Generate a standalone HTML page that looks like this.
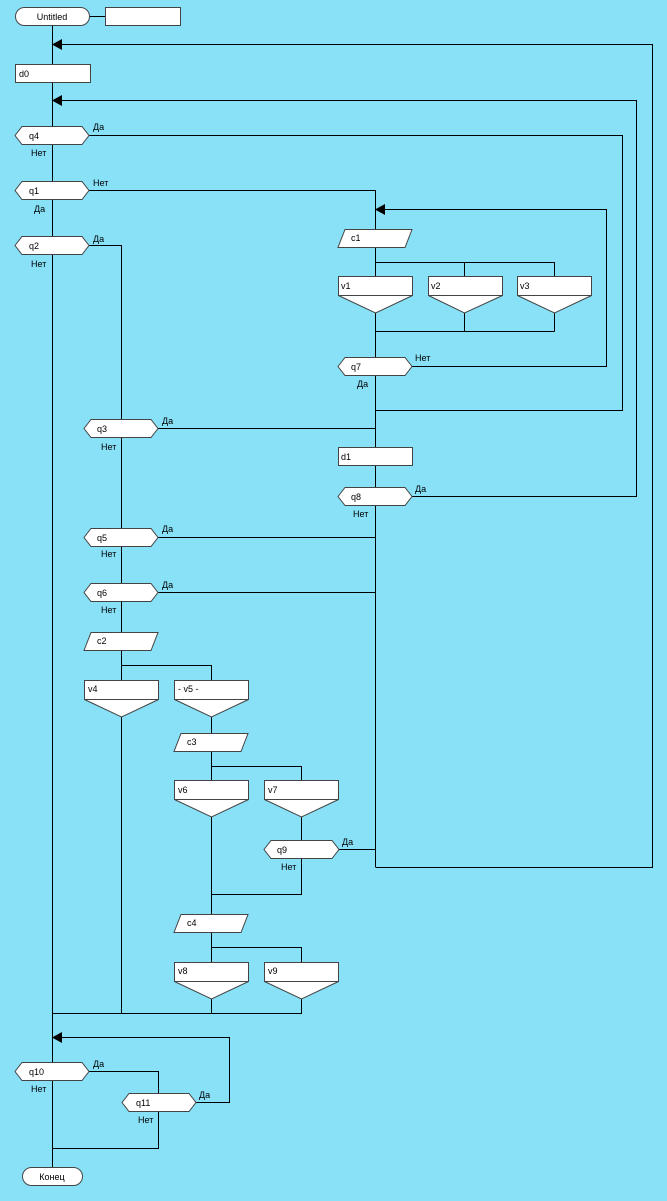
<!DOCTYPE html>
<html><head><meta charset="utf-8"><style>
html,body{margin:0;padding:0;background:#88e1f7;}
svg{display:block}
text{font-family:"Liberation Sans",sans-serif;font-size:9px;fill:#000}
.s{fill:#fff;stroke:#444;stroke-width:1}
.l{stroke:#000;stroke-width:1;fill:none}
</style></head><body>
<svg width="667" height="1201" viewBox="0 0 667 1201" xmlns="http://www.w3.org/2000/svg">
<g class="l">
<path d="M52.5 26V1176"/>
<path d="M89 16.5H105"/>
<path d="M62 44.5H652.5V867.5H375.5"/>
<path d="M62 100.5H636.5V496.5H412"/>
<path d="M89 135.5H622.5V410.5H375.5"/>
<path d="M89 190.5H375.5V229"/>
<path d="M89 245.5H121.5V1013"/>
<path d="M385 209.5H606.5V366.5H412"/>
<path d="M375.5 247V276M375.5 262.5H554.5V276M464.5 262.5V276"/>
<path d="M375.5 313V867M464.5 313V331.5M554.5 313V331.5M375.5 331.5H554.5"/>
<path d="M158 428.5H375.5"/>
<path d="M158 537.5H375.5"/>
<path d="M158 592.5H375.5"/>
<path d="M121.5 665.5H211.5V680"/>
<path d="M211.5 717V914M211.5 766.5H301.5V780M301.5 817V894.5H211.5"/>
<path d="M339 849.5H375.5"/>
<path d="M211.5 932V962M211.5 947.5H301.5V962M211.5 999V1013.5M301.5 999V1013.5H52.5"/>
<path d="M62 1037.5H229.5V1102.5H196"/>
<path d="M89 1071.5H158.5V1093M158.5 1111V1148.5H52.5"/>
</g>
<g fill="#000">
<path d="M52 44.5L62 39V50Z"/>
<path d="M52 100.5L62 95V106Z"/>
<path d="M375 209.5L385 204V215Z"/>
<path d="M52 1037.5L62 1032V1043Z"/>
</g>
<rect class="s" x="15.5" y="7.5" width="74" height="18" rx="9"/>
<text x="52" y="20" text-anchor="middle">Untitled</text>
<rect class="s" x="105.5" y="7.5" width="75" height="18"/>
<rect class="s" x="15.5" y="64.5" width="75" height="18"/><text x="19" y="77">d0</text>

<polygon class="s" points="15,135.5 22,126.5 82,126.5 89,135.5 82,144.5 22,144.5"/><text x="29" y="139">q4</text>
<text x="93" y="130">Да</text><text x="31" y="156">Нет</text>
<polygon class="s" points="15,190.5 22,181.5 82,181.5 89,190.5 82,199.5 22,199.5"/><text x="29" y="194">q1</text>
<text x="93" y="186">Нет</text><text x="34" y="212">Да</text>
<polygon class="s" points="15,245.5 22,236.5 82,236.5 89,245.5 82,254.5 22,254.5"/><text x="29" y="249">q2</text>
<text x="93" y="242">Да</text><text x="31" y="267">Нет</text>

<polygon class="s" points="345,229.5 412,229.5 405,247.5 338,247.5"/><text x="351" y="241">c1</text>
<rect class="s" x="338.5" y="276.5" width="74" height="19"/><polygon class="s" points="338.5,295.5 412.5,295.5 375.5,313"/><text x="341" y="289">v1</text>
<rect class="s" x="428.5" y="276.5" width="74" height="19"/><polygon class="s" points="428.5,295.5 502.5,295.5 464.5,313"/><text x="431" y="289">v2</text>
<rect class="s" x="517.5" y="276.5" width="74" height="19"/><polygon class="s" points="517.5,295.5 591.5,295.5 554.5,313"/><text x="520" y="289">v3</text>
<polygon class="s" points="338,366.5 345,357.5 405,357.5 412,366.5 405,375.5 345,375.5"/><text x="351" y="370">q7</text>
<text x="415" y="361">Нет</text><text x="357" y="387">Да</text>

<polygon class="s" points="84,428.5 91,419.5 151,419.5 158,428.5 151,437.5 91,437.5"/><text x="97" y="432">q3</text>
<text x="162" y="424">Да</text><text x="101" y="450">Нет</text>
<rect class="s" x="338.5" y="447.5" width="74" height="18"/><text x="341" y="460">d1</text>
<polygon class="s" points="338,496.5 345,487.5 405,487.5 412,496.5 405,505.5 345,505.5"/><text x="351" y="500">q8</text>
<text x="415" y="492">Да</text><text x="353" y="517">Нет</text>
<polygon class="s" points="84,537.5 91,528.5 151,528.5 158,537.5 151,546.5 91,546.5"/><text x="97" y="541">q5</text>
<text x="162" y="532">Да</text><text x="101" y="557">Нет</text>
<polygon class="s" points="84,592.5 91,583.5 151,583.5 158,592.5 151,601.5 91,601.5"/><text x="97" y="596">q6</text>
<text x="162" y="588">Да</text><text x="101" y="613">Нет</text>
<polygon class="s" points="91,632.5 158,632.5 151,650.5 84,650.5"/><text x="97" y="644">c2</text>
<rect class="s" x="84.5" y="680.5" width="74" height="19"/><polygon class="s" points="84.5,699.5 158.5,699.5 121.5,717"/><text x="88" y="692">v4</text>
<rect class="s" x="174.5" y="680.5" width="74" height="19"/><polygon class="s" points="174.5,699.5 248.5,699.5 211.5,717"/><text x="178" y="692">- v5 -</text>
<polygon class="s" points="181,733.5 248,733.5 241,751.5 174,751.5"/><text x="187" y="745">c3</text>
<rect class="s" x="174.5" y="780.5" width="74" height="19"/><polygon class="s" points="174.5,799.5 248.5,799.5 211.5,817"/><text x="178" y="793">v6</text>
<rect class="s" x="264.5" y="780.5" width="74" height="19"/><polygon class="s" points="264.5,799.5 338.5,799.5 301.5,817"/><text x="268" y="793">v7</text>
<polygon class="s" points="264,849.5 271,840.5 332,840.5 339,849.5 332,858.5 271,858.5"/><text x="277" y="853">q9</text>
<text x="342" y="845">Да</text><text x="281" y="870">Нет</text>
<polygon class="s" points="181,914.5 248,914.5 241,932.5 174,932.5"/><text x="187" y="926">c4</text>
<rect class="s" x="174.5" y="962.5" width="74" height="19"/><polygon class="s" points="174.5,981.5 248.5,981.5 211.5,999"/><text x="178" y="974">v8</text>
<rect class="s" x="264.5" y="962.5" width="74" height="19"/><polygon class="s" points="264.5,981.5 338.5,981.5 301.5,999"/><text x="268" y="974">v9</text>

<polygon class="s" points="15,1071.5 22,1062.5 82,1062.5 89,1071.5 82,1080.5 22,1080.5"/><text x="29" y="1075">q10</text>
<text x="93" y="1067">Да</text><text x="31" y="1092">Нет</text>
<polygon class="s" points="122,1102.5 129,1093.5 189,1093.5 196,1102.5 189,1111.5 129,1111.5"/><text x="136" y="1106">q11</text>
<text x="199" y="1098">Да</text><text x="138" y="1123">Нет</text>
<rect class="s" x="22.5" y="1167.5" width="60" height="18" rx="9"/>
<text x="52" y="1180" text-anchor="middle">Конец</text>
</svg>
</body></html>
